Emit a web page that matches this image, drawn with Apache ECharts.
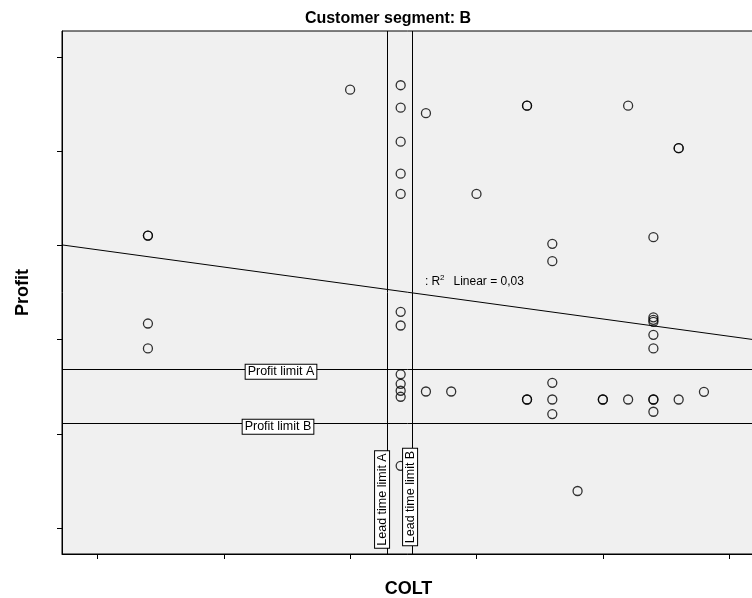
<!DOCTYPE html>
<html>
<head>
<meta charset="utf-8">
<title>Customer segment: B</title>
<script src="https://cdn.jsdelivr.net/npm/echarts@6/dist/echarts.min.js"></script>
<style>
  html, body { margin: 0; padding: 0; background: #ffffff; }
  #chart { width: 752px; height: 598px; }
</style>
</head>
<body>
<div id="chart"></div>
<script>
// COLT (lead time) and profit for every order of customer segment B
const coltValues = [
  2, 2, 2, 2,
  10,
  12, 12, 12, 12, 12, 12, 12, 12, 12, 12, 12, 12,
  13, 13,
  14,
  15,
  17, 17, 17, 17,
  18, 18, 18, 18, 18,
  19,
  20, 20,
  21, 21,
  22, 22, 22, 22, 22, 22, 22, 22, 22,
  23, 23, 23,
  24
];
const profitValues = [
  3106, 3106, 2172, 1907,
  4656,
  4703, 4465, 4104, 3764, 3549, 2296, 2151, 1633, 1532, 1458, 1394, 661,
  4406, 1450,
  1450,
  3549,
  4486, 4486, 1365, 1365,
  3018, 2834, 1542, 1365, 1210,
  393,
  1365, 1365,
  4486, 1365,
  3089, 2238, 2211, 2190, 2052, 1907, 1365, 1365, 1235,
  4034, 4034, 1365,
  1447
];

// Axis ranges and tick positions (ticks carry no labels)
const xRange = [-1.4, 26.02];
const yRange = [-276, 5279];
const xTickValues = [0, 5, 10, 15, 20, 25];
const yTickValues = [0, 1000, 2000, 3000, 4000, 5000];

// Reference lines
const profitLimitNames = ['Profit limit A', 'Profit limit B'];
const profitLimitValues = [1691, 1110];
const leadTimeLimitNames = ['Lead time limit A', 'Lead time limit B'];
const leadTimeLimitValues = [11.45, 12.44];

// Linear fit line endpoints and its R squared
const fitColt = [-1.4, 26.02];
const fitProfit = [3007, 1999];
const rSquaredText = '0,03';

const FONT = '"Liberation Sans", Arial, Helvetica, sans-serif';

const points = coltValues.map((c, i) => [c, profitValues[i]]);
const fitData = fitColt.map((c, i) => [c, fitProfit[i]]);

const chart = echarts.init(document.getElementById('chart'), null, { renderer: 'canvas' });

const markLineData = profitLimitValues.map(v => ({ yAxis: v }))
  .concat(leadTimeLimitValues.map(v => ({ xAxis: v })));

chart.setOption({
  animation: false,
  backgroundColor: '#ffffff',
  title: {
    text: 'Customer segment: B',
    left: 383,
    top: 6,
    textAlign: 'center',
    textStyle: { fontFamily: FONT, fontWeight: 'bold', fontSize: 16, color: '#000' }
  },
  grid: {
    left: 62, top: 31, width: 693, height: 523,
    outerBoundsMode: 'none',
    containLabel: false,
    show: true,
    backgroundColor: '#f0f0f0',
    borderColor: '#000',
    borderWidth: 1
  },
  xAxis: {
    type: 'value',
    min: xRange[0], max: xRange[1],
    name: 'COLT',
    nameLocation: 'middle',
    nameGap: 26,
    nameTextStyle: { fontFamily: FONT, fontWeight: 'bold', fontSize: 18, color: '#000' },
    axisLine: { show: true, onZero: false, lineStyle: { color: '#000', width: 1 } },
    axisTick: { show: true, inside: false, length: 5, customValues: xTickValues, lineStyle: { color: '#000', width: 1 } },
    axisLabel: { show: false },
    splitLine: { show: false }
  },
  yAxis: {
    type: 'value',
    min: yRange[0], max: yRange[1],
    name: 'Profit',
    nameLocation: 'middle',
    nameRotate: 90,
    nameGap: 30,
    nameTextStyle: { fontFamily: FONT, fontWeight: 'bold', fontSize: 18, color: '#000' },
    axisLine: { show: true, onZero: false, lineStyle: { color: '#000', width: 1 } },
    axisTick: { show: true, inside: false, length: 5, customValues: yTickValues, lineStyle: { color: '#000', width: 1 } },
    axisLabel: { show: false },
    splitLine: { show: false }
  },
  series: [
    {
      name: 'Fit line',
      type: 'line',
      data: fitData,
      symbol: 'none',
      clip: true,
      silent: true,
      z: 2,
      lineStyle: { color: '#000', width: 1 },
      markLine: {
        silent: true,
        symbol: ['none', 'none'],
        label: { show: false },
        lineStyle: { color: '#000', width: 1, type: 'solid' },
        data: markLineData
      }
    },
    {
      name: 'Profit',
      type: 'scatter',
      data: points,
      symbol: 'circle',
      symbolSize: 9,
      z: 3,
      itemStyle: { color: 'rgba(0,0,0,0)', borderColor: '#000', borderWidth: 1.3 }
    }
  ]
});

// Boxed labels for the reference lines and the fit annotation
const px = v => chart.convertToPixel({ xAxisIndex: 0 }, v);
const py = v => chart.convertToPixel({ yAxisIndex: 0 }, v);

const boxStyle = {
  font: '12.5px ' + FONT,
  fill: '#000',
  align: 'center',
  verticalAlign: 'middle',
  backgroundColor: '#ffffff',
  borderColor: '#000',
  borderWidth: 1,
  padding: [1, 2, 0, 2]
};

const profitLabelX = [281, 278];
const profitLabelDy = [3, 3.3];
const leadLabelDx = [-4.7, -1.7];
const leadLabelY = [499.5, 497];

const graphics = [];
profitLimitNames.forEach((name, i) => {
  graphics.push({
    type: 'text', z: 100,
    x: profitLabelX[i], y: py(profitLimitValues[i]) + profitLabelDy[i],
    style: Object.assign({}, boxStyle, { text: name })
  });
});
leadTimeLimitNames.forEach((name, i) => {
  graphics.push({
    type: 'text', z: 100,
    x: px(leadTimeLimitValues[i]) + leadLabelDx[i], y: leadLabelY[i],
    rotation: Math.PI / 2,
    style: Object.assign({}, boxStyle, { text: name })
  });
});

const fitTextStyle = { font: '12px ' + FONT, fill: '#000', align: 'left', verticalAlign: 'middle' };
graphics.push(
  { type: 'text', z: 100, x: 425, y: 282, style: Object.assign({}, fitTextStyle, { text: ':' }) },
  { type: 'text', z: 100, x: 431.5, y: 282, style: Object.assign({}, fitTextStyle, { text: 'R' }) },
  { type: 'text', z: 100, x: 440, y: 278, style: Object.assign({}, fitTextStyle, { text: '2', font: '8px ' + FONT }) },
  { type: 'text', z: 100, x: 453.5, y: 282, style: Object.assign({}, fitTextStyle, { text: 'Linear = ' + rSquaredText }) }
);

chart.setOption({ graphic: graphics });
</script>
</body>
</html>
